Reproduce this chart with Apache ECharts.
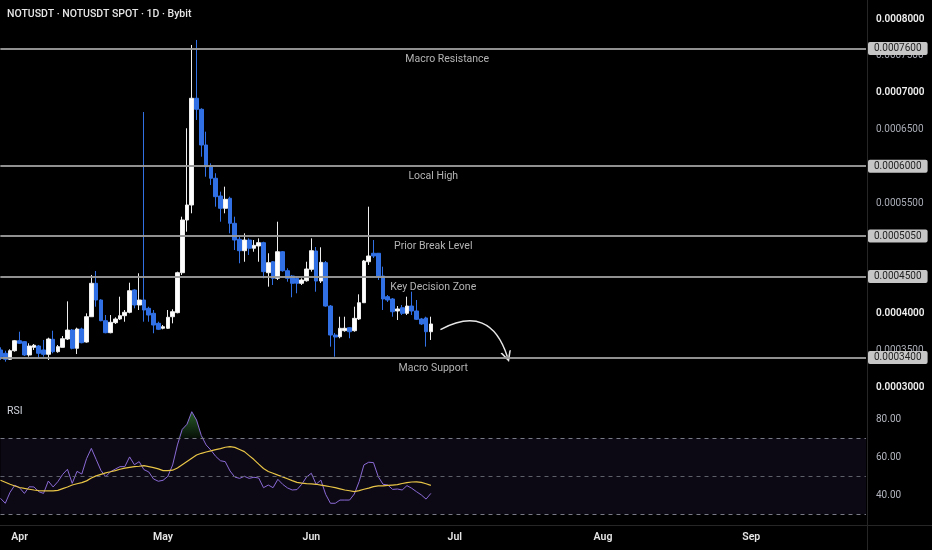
<!DOCTYPE html>
<html><head><meta charset="utf-8">
<script src="https://cdn.jsdelivr.net/npm/echarts@6/dist/echarts.min.js"></script>
<style>html,body{margin:0;padding:0;background:#000;}#c{width:932px;height:550px;}</style>
</head><body><div id="c"></div>
<script>
// ---- categories (daily, from 2025-03-28) ----
const firstDay = [2025, 2, 28];
const dayCount = 182;
const dates = [];
for (let k = 0; k < dayCount; k++) {
  const d = new Date(Date.UTC(firstDay[0], firstDay[1], firstDay[2] + k));
  dates.push(d.toISOString().slice(0, 10));
}
const monthNames = ['Jan','Feb','Mar','Apr','May','Jun','Jul','Aug','Sep','Oct','Nov','Dec'];

// ---- OHLC (price) ----
const open = [3.503e-4,3.458e-4,3.376e-4,3.493e-4,3.629e-4,3.616e-4,3.435e-4,3.539e-4,3.557e-4,3.503e-4,
3.444e-4,3.648e-4,3.480e-4,3.539e-4,3.652e-4,3.774e-4,3.526e-4,3.788e-4,3.611e-4,3.955e-4,
4.409e-4,4.182e-4,3.901e-4,3.738e-4,3.874e-4,3.924e-4,3.969e-4,4.015e-4,4.318e-4,4.114e-4,
4.182e-4,4.069e-4,4.001e-4,3.865e-4,3.798e-4,3.798e-4,3.955e-4,4.010e-4,4.553e-4,5.269e-4,
5.473e-4,6.923e-4,6.773e-4,6.288e-4,5.993e-4,5.836e-4,5.595e-4,5.428e-4,5.564e-4,5.224e-4,
5.007e-4,4.852e-4,4.997e-4,4.885e-4,4.916e-4,4.961e-4,4.553e-4,4.702e-4,4.477e-4,4.838e-4,
4.580e-4,4.508e-4,4.477e-4,4.409e-4,4.444e-4,4.599e-4,4.848e-4,4.440e-4,4.689e-4,4.100e-4,
3.706e-4,3.683e-4,3.765e-4,3.806e-4,3.765e-4,3.924e-4,4.145e-4,4.702e-4,4.817e-4,4.817e-4,
4.508e-4,4.227e-4,4.196e-4,4.033e-4,4.077e-4,4.001e-4,4.100e-4,4.033e-4,3.924e-4,3.938e-4,3.751e-4];
const close = [3.412e-4,3.376e-4,3.493e-4,3.629e-4,3.594e-4,3.435e-4,3.557e-4,3.567e-4,3.458e-4,3.444e-4,
3.652e-4,3.480e-4,3.548e-4,3.656e-4,3.774e-4,3.526e-4,3.788e-4,3.602e-4,3.955e-4,4.409e-4,
4.182e-4,3.901e-4,3.738e-4,3.879e-4,3.924e-4,3.969e-4,4.015e-4,4.308e-4,4.114e-4,4.182e-4,
4.046e-4,3.978e-4,3.842e-4,3.784e-4,3.819e-4,3.947e-4,4.023e-4,4.553e-4,5.269e-4,5.473e-4,
6.923e-4,6.773e-4,6.288e-4,5.993e-4,5.836e-4,5.586e-4,5.428e-4,5.550e-4,5.224e-4,4.997e-4,
4.852e-4,4.997e-4,4.885e-4,4.925e-4,4.961e-4,4.567e-4,4.689e-4,4.477e-4,4.838e-4,4.580e-4,
4.477e-4,4.409e-4,4.409e-4,4.454e-4,4.603e-4,4.852e-4,4.440e-4,4.694e-4,4.100e-4,3.706e-4,
3.679e-4,3.798e-4,3.798e-4,3.751e-4,3.933e-4,4.145e-4,4.712e-4,4.780e-4,4.780e-4,4.508e-4,
4.196e-4,4.182e-4,4.023e-4,4.060e-4,4.001e-4,4.100e-4,4.033e-4,3.920e-4,3.856e-4,3.751e-4,3.856e-4];
const low = [3.367e-4,3.344e-4,3.367e-4,3.480e-4,3.584e-4,3.421e-4,3.412e-4,3.503e-4,3.390e-4,3.412e-4,
3.367e-4,3.458e-4,3.466e-4,3.539e-4,3.639e-4,3.512e-4,3.448e-4,3.594e-4,3.602e-4,3.955e-4,
4.091e-4,3.893e-4,3.730e-4,3.730e-4,3.856e-4,3.910e-4,3.887e-4,4.001e-4,4.069e-4,4.046e-4,
3.887e-4,3.887e-4,3.730e-4,3.774e-4,3.784e-4,3.788e-4,3.865e-4,4.001e-4,4.522e-4,5.110e-4,
5.360e-4,6.628e-4,6.129e-4,5.857e-4,5.745e-4,5.450e-4,5.246e-4,5.360e-4,5.088e-4,4.861e-4,
4.681e-4,4.702e-4,4.794e-4,4.838e-4,4.702e-4,4.477e-4,4.363e-4,4.386e-4,4.454e-4,4.567e-4,
4.431e-4,4.219e-4,4.273e-4,4.386e-4,4.431e-4,4.567e-4,4.295e-4,4.413e-4,4.091e-4,3.548e-4,
3.412e-4,3.662e-4,3.751e-4,3.662e-4,3.751e-4,3.910e-4,4.141e-4,4.658e-4,4.753e-4,4.454e-4,
4.046e-4,4.155e-4,3.955e-4,3.910e-4,3.978e-4,3.978e-4,3.978e-4,3.910e-4,3.842e-4,3.548e-4,3.639e-4];
const high = [3.539e-4,3.493e-4,3.512e-4,3.639e-4,3.751e-4,3.625e-4,3.594e-4,3.584e-4,3.571e-4,3.639e-4,
3.670e-4,3.765e-4,3.571e-4,3.693e-4,4.164e-4,3.788e-4,3.806e-4,3.806e-4,4.001e-4,4.522e-4,
4.576e-4,4.192e-4,3.978e-4,3.978e-4,3.947e-4,4.227e-4,4.046e-4,4.417e-4,4.327e-4,4.545e-4,
6.736e-4,4.091e-4,4.046e-4,3.887e-4,3.842e-4,4.046e-4,4.056e-4,4.567e-4,5.314e-4,6.515e-4,
7.647e-4,7.715e-4,6.787e-4,6.469e-4,6.039e-4,5.904e-4,5.654e-4,5.722e-4,5.586e-4,5.314e-4,
5.042e-4,5.088e-4,5.020e-4,4.997e-4,5.020e-4,4.974e-4,4.817e-4,4.712e-4,5.246e-4,4.848e-4,
4.613e-4,4.522e-4,4.499e-4,4.477e-4,4.702e-4,5.020e-4,4.902e-4,4.898e-4,4.712e-4,4.114e-4,
3.734e-4,3.955e-4,3.955e-4,3.815e-4,4.091e-4,4.259e-4,4.726e-4,5.450e-4,4.997e-4,4.817e-4,
4.635e-4,4.250e-4,4.209e-4,4.100e-4,4.114e-4,4.227e-4,4.295e-4,4.182e-4,3.938e-4,3.955e-4,3.955e-4];

// ---- RSI and its moving average ----
const rsi = [38.4,35.8,41.6,45.3,43.9,41.0,44.5,44.4,41.9,41.0,
47.5,44.4,47.2,51.0,53.7,46.3,52.6,51.2,59.3,64.7,
58.9,53.1,49.8,52.4,53.8,55.1,55.1,60.2,56.1,57.7,
53.5,52.3,48.6,47.4,47.9,50.0,56.0,66.5,74.7,77.4,
84.0,79.6,71.4,66.5,63.8,60.5,58.2,57.7,52.8,49.6,
48.9,50.0,48.9,49.5,49.1,44.0,45.4,44.0,48.4,45.8,
43.9,42.8,43.0,45.8,49.6,51.6,45.8,48.0,40.5,35.8,
35.8,37.5,37.5,37.5,40.7,47.2,56.0,57.4,57.2,49.8,
45.8,45.4,43.1,43.3,42.8,45.1,43.7,41.9,40.2,38.0,41.0];
const rsiMA = [47.9,46.9,45.8,44.9,44.1,43.6,43.2,42.8,42.5,42.3,
42.3,42.3,42.6,43.5,44.4,45.4,46.1,46.7,47.6,49.1,
50.2,51.0,51.8,52.4,53.0,53.7,54.3,54.7,55.1,55.3,
55.6,55.1,54.6,53.9,53.0,53.0,53.2,54.4,56.1,57.8,
59.5,61.2,62.1,62.8,63.4,64.0,64.6,65.3,65.6,65.2,
64.1,63.0,60.9,58.8,56.4,54.1,52.5,51.6,50.6,49.7,
48.7,47.7,46.8,46.4,46.1,46.0,45.8,45.4,45.0,44.5,
44.0,43.4,42.8,42.4,41.9,42.5,43.2,43.8,44.6,45.0,
45.0,45.2,45.4,45.6,46.2,46.7,47.0,47.1,46.8,46.1,45.2];

// ---- annotations ----
const levels = [0.00076, 0.0006, 0.000505, 0.00045, 0.00034];
const levelNames = ['Macro Resistance', 'Local High', 'Prior Break Level', 'Key Decision Zone', 'Macro Support'];
const rsiLevels = [30, 50, 70];
const rsiTickValues = [40, 60, 80];
const arrowFrom = ['2025-06-28', 0.000378];
const arrowTo = ['2025-07-12', 0.000341];

const FONT = 'Roboto, "Noto Sans", sans-serif';
const chart = echarts.init(document.getElementById('c'));

const candleData = open.map((o, i) => [o, close[i], low[i], high[i]]);
const obData = rsi.map(v => Math.max(v, 70));
const firstCat = dates[0], lastCat = dates[dates.length - 1];

const levelLines = [];
levels.forEach((v, k) => {
  levelLines.push([
    { coord: [firstCat, v] },
    { coord: [lastCat, v], label: { show: true, position: 'insideMiddleBottom', formatter: levelNames[k],
        color: '#b4b4b4', fontSize: 10.5, distance: 5, fontFamily: FONT,
        padding: k === 0 ? [0, 0, 0, 28] : 0 } }
  ]);
  levelLines.push([
    { coord: [firstCat, v] },
    { coord: [lastCat, v], label: { show: true, position: 'end', formatter: v.toFixed(7),
        backgroundColor: '#c6c6c6', color: '#1e1e1e', fontSize: 10, fontFamily: FONT,
        padding: [2, 6, 1, 6], borderRadius: 2, distance: 2 } }
  ]);
});

const option = {
  backgroundColor: '#000000',
  animation: false,
  textStyle: { fontFamily: FONT },
  title: [
    { text: 'NOTUSDT · NOTUSDT SPOT · 1D · Bybit', left: 7, top: 9, padding: 0,
      textStyle: { color: '#e6e6e6', fontSize: 10.5, fontWeight: 500, fontFamily: FONT } },
    { text: 'RSI', left: 7, top: 406, padding: 0,
      textStyle: { color: '#d1d4dc', fontSize: 10.5, fontWeight: 400, fontFamily: FONT } }
  ],
  grid: [
    { left: 0.5, width: 865.5, top: 19, height: 368 },
    { left: 0.5, width: 865.5, top: 400.3, height: 125.4 }
  ],
  xAxis: [
    { type: 'category', gridIndex: 0, data: dates, boundaryGap: false, show: false },
    { type: 'category', gridIndex: 1, data: dates, boundaryGap: false,
      axisLine: { show: false }, axisTick: { show: false }, splitLine: { show: false },
      axisLabel: {
        interval: (i, v) => v.endsWith('-01'),
        formatter: v => monthNames[+v.slice(5, 7) - 1],
        color: '#e6e6e6', fontWeight: 600, fontSize: 10.5, margin: 6, fontFamily: FONT
      } }
  ],
  yAxis: [
    { type: 'value', gridIndex: 0, position: 'right', min: 0.0003, max: 0.0008, interval: 0.00005,
      splitLine: { show: false }, axisLine: { show: false }, axisTick: { show: false },
      axisLabel: {
        margin: 10,
        formatter: v => {
          const s = v.toFixed(7);
          const major = Math.abs(v * 1e4 - Math.round(v * 1e4)) < 1e-6;
          return major ? '{b|' + s + '}' : '{n|' + s + '}';
        },
        rich: {
          b: { color: '#f0f0f0', fontWeight: 600, fontSize: 10, fontFamily: FONT },
          n: { color: '#a9acb5', fontWeight: 400, fontSize: 10, fontFamily: FONT }
        }
      } },
    { type: 'value', gridIndex: 1, position: 'right', min: 24, max: 90,
      splitLine: { show: false }, axisLine: { show: false }, axisTick: { show: false },
      axisLabel: { customValues: rsiTickValues, formatter: v => v.toFixed(2),
        color: '#b2b5be', fontSize: 10, margin: 10, fontFamily: FONT } }
  ],
  graphic: [
    { type: 'line', shape: { x1: 867.5, y1: 0, x2: 867.5, y2: 550 }, style: { stroke: '#262626', lineWidth: 1 }, silent: true },
    { type: 'line', shape: { x1: 0, y1: 525.5, x2: 932, y2: 525.5 }, style: { stroke: '#262626', lineWidth: 1 }, silent: true }
  ],
  series: [
    {
      type: 'candlestick', xAxisIndex: 0, yAxisIndex: 0, data: candleData, barWidth: 4.2,
      itemStyle: { color: '#ffffff', color0: '#3170e4', borderColor: '#eeeeee', borderColor0: '#3170e4', borderWidth: 1 }
    },
    {
      type: 'line', xAxisIndex: 0, yAxisIndex: 0, data: [], silent: true,
      markLine: {
        silent: true, symbol: ['none', 'none'], animation: false,
        lineStyle: { color: '#9a9a9a', width: 1.5, type: 'solid' },
        label: { show: false },
        data: levelLines
      },
      z: 3
    },
    {
      type: 'lines', coordinateSystem: 'cartesian2d', xAxisIndex: 0, yAxisIndex: 0, silent: true,
      symbol: ['none', 'path://M0,10L5,0L10,10L8.4,10L5,3.2L1.6,10Z'], symbolSize: 11,
      lineStyle: { color: '#e6e6e6', width: 1.5, opacity: 1, curveness: 0.6 },
      data: [{ coords: [arrowFrom, arrowTo] }],
      z: 4
    },
    {
      type: 'line', xAxisIndex: 1, yAxisIndex: 1, data: obData, symbol: 'none', silent: true,
      lineStyle: { opacity: 0 },
      areaStyle: { origin: 70, color: new echarts.graphic.LinearGradient(0, 0, 0, 1, [
        { offset: 0, color: 'rgba(76,175,80,0.75)' }, { offset: 1, color: 'rgba(76,175,80,0.12)' }]) },
      z: 1
    },
    {
      type: 'line', xAxisIndex: 1, yAxisIndex: 1, data: rsi, symbol: 'none', silent: true,
      lineStyle: { color: '#8a6bd6', width: 1 },
      markArea: { silent: true, itemStyle: { color: 'rgba(126,87,194,0.1)' },
        data: [[{ yAxis: rsiLevels[0] }, { yAxis: rsiLevels[2] }]] },
      markLine: { silent: true, symbol: ['none', 'none'], label: { show: false },
        lineStyle: { color: '#787b86', width: 1, type: [4, 4] },
        data: rsiLevels.map(v => ({ yAxis: v, lineStyle: v === 50 ? { color: '#5d606b', type: [4, 4] } : undefined })) },
      z: 3
    },
    {
      type: 'line', xAxisIndex: 1, yAxisIndex: 1, data: rsiMA, symbol: 'none', silent: true,
      lineStyle: { color: '#e8c547', width: 1.2 }, z: 4
    }
  ]
};
chart.setOption(option);
</script>
</body></html>
